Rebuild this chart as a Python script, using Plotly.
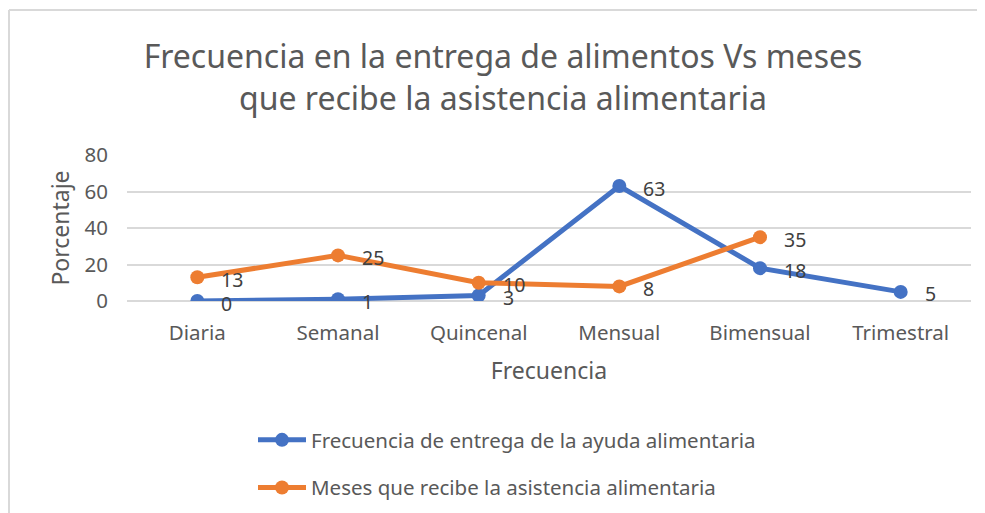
import plotly.graph_objects as go

# datos
categorias = ["Diaria", "Semanal", "Quincenal", "Mensual", "Bimensual", "Trimestral"]
frecuencia_entrega = [0, 1, 3, 63, 18, 5]
meses_recibe = [13, 25, 10, 8, 35, None]

nombre_azul = "Frecuencia de entrega de la ayuda alimentaria"
nombre_naranja = "Meses que recibe la asistencia alimentaria"

AZUL = "#4472C4"
NARANJA = "#ED7D31"
GRIS_TXT = "#595959"
FUENTE = "Noto Sans"

# la página deja 8px de margen en el body
OFF = 8
W, H = 985 - OFF, 513 - OFF
L, R, T, B = 127 - OFF, 14, 155 - OFF, 212
pw = W - L - R
ph = H - T - B


def px_x(v):
    # posición en píxeles de la página -> coordenada paper
    return (v - OFF - L) / pw


def px_y(v):
    return (T + ph - (v - OFF)) / ph


fig = go.Figure()

fig.add_trace(go.Scatter(
    x=categorias, y=frecuencia_entrega, name=nombre_azul,
    mode="lines+markers", legendgroup="a",
    line=dict(color=AZUL, width=5),
    marker=dict(color=AZUL, size=14),
))
fig.add_trace(go.Scatter(
    x=categorias, y=meses_recibe, name=nombre_naranja,
    mode="lines+markers", legendgroup="b",
    line=dict(color=NARANJA, width=5),
    marker=dict(color=NARANJA, size=14),
))

# etiquetas de datos a la derecha de cada punto
for serie in (frecuencia_entrega, meses_recibe):
    for c, v in zip(categorias, serie):
        if v is None:
            continue
        fig.add_annotation(
            x=c, y=v, text=str(v), showarrow=False,
            xanchor="left", yanchor="middle", xshift=22, yshift=-2,
            font=dict(family=FUENTE, size=19.5, color="#404040"),
        )

# borde del área del gráfico
borde = dict(color="#d9d9d9", width=2)
fig.add_shape(type="line", xref="paper", yref="paper",
              x0=px_x(OFF + 1), x1=px_x(985), y0=px_y(10), y1=px_y(10), line=borde)
fig.add_shape(type="line", xref="paper", yref="paper",
              x0=px_x(OFF + 1), x1=px_x(OFF + 1), y0=px_y(10), y1=px_y(513), line=borde)

fig.update_layout(
    width=W, height=H,
    margin=dict(l=L, r=R, t=T, b=B, autoexpand=False),
    plot_bgcolor="white", paper_bgcolor="white",
    font=dict(family=FUENTE, color=GRIS_TXT),
    title=dict(
        text="Frecuencia en la entrega de alimentos Vs meses<br>que recibe la asistencia alimentaria",
        xref="container", x=(503 - OFF) / W, xanchor="center",
        yref="container", y=1 - (68 - OFF) / H, yanchor="middle",
        font=dict(family=FUENTE, size=32, color=GRIS_TXT),
    ),
    showlegend=True,
    legend=dict(
        x=px_x(253), xanchor="left", y=px_y(420), yanchor="top",
        orientation="v", tracegroupgap=18, itemwidth=48,
        font=dict(family=FUENTE, size=20.5, color=GRIS_TXT),
        bgcolor="rgba(0,0,0,0)",
    ),
)

fig.update_xaxes(
    type="category", range=[-0.5, 5.5],
    showgrid=False, showline=False, zeroline=False,
    ticks="", ticklabelstandoff=17,
    tickfont=dict(family=FUENTE, size=20.5, color=GRIS_TXT),
    title=dict(text="Frecuencia", standoff=18,
               font=dict(family=FUENTE, size=23, color=GRIS_TXT)),
)
fig.update_yaxes(
    range=[0, 80], dtick=20,
    showgrid=True, gridcolor="#d9d9d9", gridwidth=1.8,
    zeroline=True, zerolinecolor="#d9d9d9", zerolinewidth=1.8,
    showline=False, ticks="", ticklabelstandoff=18,
    tickfont=dict(family=FUENTE, size=20.5, color=GRIS_TXT),
    title=dict(text="Porcentaje", standoff=8,
               font=dict(family=FUENTE, size=23, color=GRIS_TXT)),
)

fig.write_html("out.html", config={"displayModeBar": False})
